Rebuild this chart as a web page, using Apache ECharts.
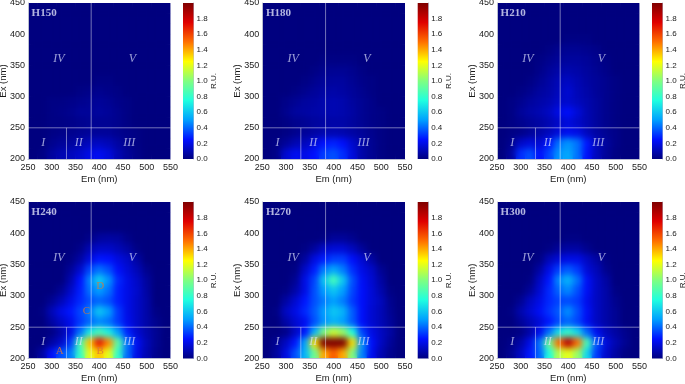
<!DOCTYPE html>
<html><head><meta charset="utf-8">
<script src="https://cdn.jsdelivr.net/npm/echarts@6/dist/echarts.min.js"></script>
<style>
html,body{margin:0;padding:0;background:#fff;width:685px;height:384px;overflow:hidden}
.layer{position:absolute;left:0;top:0;width:685px;height:384px}
#clip{position:absolute;left:0;top:0;width:685px;height:384px;
clip-path:path('M28 3H170.5V159H28ZM262.3 3H405V159H262.3ZM497 3H639.5V159H497ZM28 202H170.5V358.5H28ZM262.3 202H405V358.5H262.3ZM497 202H639.5V358.5H497Z')}
#blur{filter:blur(3px)}
</style></head><body>
<div id="clip"><div id="base" class="layer"></div><div id="blur" class="layer"></div></div>
<div id="top" class="layer"></div>
<script>
// Cell centres
const emCells=[260,280,300,320,340,360,380,400,420,440,460,480,500,520,540];
const exCells=['442','425','408','392','375','358','342','325','308','292','275','258','242','225','208'];
const panelNames=['H150','H180','H210','H240','H270','H300'];
// Values: rows from Ex 442 down to Ex 208, columns Em 260..540
const H150=[
[0,0,0,0,0,0,0,0,0,0,0,0,0,0,0],
[0,0,0,0,0,0,0,0,0,0,0,0,0,0,0],
[0,0,0,0,0,0,0,0,0,0,0,0,0,0,0],
[0,0,0,0,0,0,0,0,0,0,0,0,0,0,0],
[0,0,0,0,0,0,0,0,0,0,0,0,0,0,0],
[0,0,0,0,0,0,0,0,0,0,0,0,0,0,0],
[0,0,0,0,0,0,0,0,0,0,0,0,0,0,0],
[0,0,0,0,0,0,0,.01,.01,0,0,0,0,0,0],
[0,0,0,0,0,.01,.02,.03,.02,.01,0,0,0,0,0],
[0,0,.01,.01,.02,.03,.04,.05,.04,.02,.01,0,0,0,0],
[0,0,.01,.02,.03,.05,.05,.06,.05,.03,.01,0,0,0,0],
[0,0,.01,.01,.02,.03,.04,.04,.04,.03,.01,0,0,0,0],
[0,0,.01,.02,.03,.04,.05,.05,.05,.03,.02,.01,0,0,0],
[0,0,.03,.05,.06,.09,.12,.13,.11,.07,.03,.01,0,0,0],
[0,.01,.06,.1,.12,.15,.2,.22,.18,.1,.05,.02,0,0,0]];
const H180=[
[0,0,0,0,0,0,0,0,0,0,0,0,0,0,0],
[0,0,0,0,0,0,0,0,0,0,0,0,0,0,0],
[0,0,0,0,0,0,0,0,0,0,0,0,0,0,0],
[0,0,0,0,0,0,0,0,0,0,0,0,0,0,0],
[0,0,0,0,0,0,0,0,0,0,0,0,0,0,0],
[0,0,0,0,0,0,.01,.01,.01,.01,0,0,0,0,0],
[0,0,0,0,0,.01,.03,.04,.04,.03,.01,0,0,0,0],
[0,0,0,0,.01,.03,.05,.06,.06,.04,.02,.01,0,0,0],
[0,0,0,.01,.03,.05,.07,.08,.07,.05,.03,.01,0,0,0],
[0,0,.02,.04,.06,.07,.09,.1,.09,.06,.04,.02,0,0,0],
[0,0,.03,.06,.07,.08,.09,.1,.09,.07,.04,.02,.01,0,0],
[0,0,.01,.03,.04,.06,.07,.08,.08,.06,.04,.02,.01,0,0],
[0,0,.01,.03,.05,.07,.09,.1,.09,.07,.05,.03,.01,0,0],
[0,.01,.05,.1,.12,.18,.25,.28,.24,.15,.08,.04,.01,0,0],
[0,.02,.16,.22,.2,.25,.33,.36,.3,.18,.08,.04,.01,0,0]];
const H210=[
[0,0,0,0,0,0,0,0,0,0,0,0,0,0,0],
[0,0,0,0,0,0,0,0,0,0,0,0,0,0,0],
[0,0,0,0,0,0,0,0,0,0,0,0,0,0,0],
[0,0,0,0,0,0,0,.01,.01,.01,0,0,0,0,0],
[0,0,0,0,0,.01,.03,.04,.04,.03,.02,0,0,0,0],
[0,0,0,0,.01,.03,.05,.06,.06,.05,.03,.01,0,0,0],
[0,0,0,0,.02,.05,.08,.09,.08,.06,.04,.02,0,0,0],
[0,0,0,.01,.04,.07,.11,.13,.1,.07,.05,.03,.01,0,0],
[0,0,.01,.03,.06,.08,.12,.16,.11,.08,.05,.03,.01,0,0],
[0,.01,.03,.06,.08,.1,.14,.15,.12,.09,.06,.03,.01,0,0],
[0,.01,.05,.08,.1,.13,.2,.24,.17,.1,.06,.03,.01,0,0],
[0,.01,.03,.05,.07,.1,.14,.18,.14,.1,.06,.03,.01,0,0],
[0,.01,.02,.05,.08,.12,.18,.22,.2,.12,.07,.04,.02,0,0],
[0,.03,.14,.18,.16,.26,.42,.48,.42,.26,.12,.06,.02,0,0],
[0,.06,.3,.36,.24,.34,.48,.52,.42,.24,.12,.05,.01,0,0]];
const H240=[
[0,0,0,0,0,0,0,0,0,0,0,0,0,0,0],
[0,0,0,0,0,0,0,0,0,0,0,0,0,0,0],
[0,0,0,0,0,0,0,0,0,0,0,0,0,0,0],
[0,0,0,0,0,0,.02,.06,.07,.06,.02,0,0,0,0],
[0,0,0,0,0,.02,.1,.14,.14,.11,.07,.01,0,0,0],
[0,0,0,0,.01,.07,.18,.26,.25,.19,.14,.07,0,0,0],
[0,0,0,0,.05,.15,.34,.42,.36,.24,.17,.11,.03,0,0],
[0,0,0,0,.09,.25,.45,.62,.48,.29,.2,.14,.06,0,0],
[0,0,0,.04,.14,.27,.42,.5,.42,.27,.2,.15,.07,0,0],
[0,0,.04,.11,.2,.29,.36,.4,.36,.27,.2,.14,.08,0,0],
[0,.01,.11,.2,.26,.34,.44,.6,.5,.32,.2,.14,.08,.01,0],
[0,0,.07,.14,.21,.32,.4,.46,.42,.32,.21,.14,.08,.03,0],
[0,0,.01,.08,.2,.42,.7,.85,.72,.5,.28,.16,.09,.04,0],
[0,0,.07,.14,.32,.85,1.35,1.7,1.45,.9,.42,.22,.11,.04,0],
[0,.07,.24,.36,.44,.8,1.2,1.35,1.2,.8,.4,.2,.1,.03,0]];
const H270=[
[0,0,0,0,0,0,0,0,0,0,0,0,0,0,0],
[0,0,0,0,0,0,0,0,0,0,0,0,0,0,0],
[0,0,0,0,0,0,0,0,0,0,0,0,0,0,0],
[0,0,0,0,0,0,.01,.05,.05,.03,0,0,0,0,0],
[0,0,0,0,.01,.06,.14,.17,.17,.12,.05,0,0,0,0],
[0,0,0,0,.06,.19,.27,.33,.33,.24,.16,.07,0,0,0],
[0,0,0,.01,.14,.27,.44,.52,.44,.3,.2,.14,.04,0,0],
[0,0,0,.04,.2,.34,.6,.85,.6,.36,.23,.16,.07,0,0],
[0,0,.01,.08,.2,.36,.5,.6,.5,.34,.24,.17,.09,.01,0],
[0,0,.07,.16,.26,.36,.44,.5,.44,.32,.24,.17,.12,.03,0],
[0,.01,.13,.2,.29,.38,.5,.6,.55,.38,.24,.16,.11,.04,0],
[0,0,.08,.16,.22,.36,.48,.55,.5,.38,.24,.16,.11,.05,0],
[0,0,.02,.13,.26,.55,1.0,1.15,1.05,.75,.34,.2,.13,.07,0],
[0,.04,.13,.26,.52,1.3,2.0,2.3,2.05,1.3,.48,.24,.13,.05,0],
[0,.06,.19,.36,.56,.95,1.4,1.55,1.4,1.0,.45,.22,.1,.03,0]];
const H300=[
[0,0,0,0,0,0,0,0,0,0,0,0,0,0,0],
[0,0,0,0,0,0,0,0,0,0,0,0,0,0,0],
[0,0,0,0,0,0,0,0,0,0,0,0,0,0,0],
[0,0,0,0,0,0,0,.01,.01,0,0,0,0,0,0],
[0,0,0,0,0,.01,.05,.07,.07,.03,0,0,0,0,0],
[0,0,0,0,.01,.11,.17,.2,.2,.13,.07,.01,0,0,0],
[0,0,0,0,.07,.2,.33,.38,.32,.17,.11,.03,0,0,0],
[0,0,0,.01,.13,.26,.46,.55,.42,.23,.13,.07,0,0,0],
[0,0,0,.05,.16,.29,.4,.46,.36,.23,.13,.08,.01,0,0],
[0,0,.04,.13,.2,.29,.34,.35,.32,.21,.13,.08,.03,0,0],
[0,.01,.09,.16,.23,.31,.38,.47,.36,.23,.13,.08,.04,0,0],
[0,0,.05,.11,.17,.26,.35,.4,.34,.22,.13,.08,.04,0,0],
[0,0,.01,.08,.22,.42,.68,.8,.65,.4,.22,.12,.07,.03,0],
[0,.02,.08,.2,.42,.95,1.5,1.85,1.5,.85,.37,.18,.1,.04,0],
[0,.04,.13,.26,.4,.75,1.1,1.2,1.05,.65,.32,.15,.07,.01,0]];
const panelValues=[H150,H180,H210,H240,H270,H300];
// Region boundaries and annotations
const emAxisTicks=[250,550];
const exAxisTicks=[200,450];
const zoneEmLong=383, zoneEmShort=331, zoneEx=250;
const regionNames=['I','II','III','IV','V'];
const regionEm=[282,357,463,315,470];
const regionEx=[226,226,226,360,360];
const peakNames=['A','B','C','D'];
const peakEm=[317,402,373,402];
const peakEx=[212,212,275,315];
const jet=['#00007f','#0010ff','#00a0ff','#20ffdf','#80ff80','#ffff00','#ff7000','#e00000','#7f0000'];

const plotLeft=[28,262.3,497], plotWidth=[142.5,142.7,142.5], plotTop=[3,202], plotHeight=[156,156.5];
const barLeft=[183,417.7,652], barWidth=10.5;
function rect(i){const c=i%3,r=Math.floor(i/3);return{outerBoundsMode:'none',left:plotLeft[c],top:plotTop[r],width:plotWidth[c],height:plotHeight[r]};}

function heatOption(){
  const grid=[],xAxis=[],yAxis=[],series=[];
  panelNames.forEach((n,i)=>{
    grid.push(rect(i));
    xAxis.push({type:'category',gridIndex:i,data:emCells.map(String),show:false});
    yAxis.push({type:'category',gridIndex:i,data:exCells.slice().reverse(),show:false});
    const d=[];
    panelValues[i].forEach((row,r)=>row.forEach((v,c)=>d.push([c,exCells.length-1-r,v])));
    series.push({type:'heatmap',name:n,xAxisIndex:i,yAxisIndex:i,data:d,animation:false,progressive:0,emphasis:{disabled:true}});
  });
  return {animation:false,grid,xAxis,yAxis,series,
    visualMap:{show:false,type:'continuous',min:0,max:2,calculable:false,inRange:{color:jet}}};
}
const baseChart=echarts.init(document.getElementById('base'));
baseChart.setOption(heatOption());
const blurChart=echarts.init(document.getElementById('blur'));
blurChart.setOption(heatOption());

const grid=[],xAxis=[],yAxis=[],series=[];
const tickFont={fontFamily:'Liberation Sans',fontSize:9,color:'#1a1a1a'};
const nameFont={fontFamily:'Liberation Sans',fontSize:9.5,color:'#1a1a1a'};
const lineGrey={lineStyle:{color:'#b9bdd0',width:1}};
panelNames.forEach((n,i)=>{
  const rc=rect(i);
  const k=grid.length;
  grid.push(Object.assign({show:false},rc));
  xAxis.push({type:'value',gridIndex:k,min:emAxisTicks[0],max:emAxisTicks[1],interval:50,position:'bottom',
    name:'Em (nm)',nameLocation:'middle',nameGap:15,nameTextStyle:nameFont,
    axisLabel:Object.assign({margin:4,showMinLabel:true,showMaxLabel:true,hideOverlap:false},tickFont),axisLine:Object.assign({show:true},lineGrey),axisTick:{show:false},splitLine:{show:false}});
  yAxis.push({type:'value',gridIndex:k,min:exAxisTicks[0],max:exAxisTicks[1],interval:50,
    name:'Ex (nm)',nameLocation:'middle',nameGap:20,nameMoveOverlap:false,nameTextStyle:nameFont,
    axisLabel:Object.assign({margin:3,showMinLabel:true,showMaxLabel:true,hideOverlap:false},tickFont),axisLine:Object.assign({show:true},lineGrey),axisTick:{show:false},splitLine:{show:false}});
  const ln={type:'line',xAxisIndex:k,yAxisIndex:k,symbol:'none',silent:true,animation:false,lineStyle:{color:'rgba(255,255,255,0.45)',width:1}};
  series.push(Object.assign({},ln,{data:[[zoneEmLong,exAxisTicks[0]],[zoneEmLong,exAxisTicks[1]]]}));
  series.push(Object.assign({},ln,{data:[[zoneEmShort,exAxisTicks[0]],[zoneEmShort,zoneEx]]}));
  series.push(Object.assign({},ln,{data:[[emAxisTicks[0],zoneEx],[emAxisTicks[1],zoneEx]]}));
  series.push({type:'scatter',xAxisIndex:k,yAxisIndex:k,symbolSize:0,silent:true,animation:false,
    data:regionNames.map((t,j)=>({name:t,value:[regionEm[j],regionEx[j]]})),
    label:{show:true,position:'inside',formatter:'{b}',fontFamily:'Liberation Serif',fontStyle:'italic',fontSize:12,color:'rgba(225,230,255,0.85)'}});
  series.push({type:'scatter',xAxisIndex:k,yAxisIndex:k,symbolSize:0,silent:true,animation:false,
    data:[{name:n,value:[284,433]}],
    label:{show:true,position:'inside',formatter:'{b}',fontFamily:'Liberation Serif',fontWeight:'bold',fontSize:11,color:'rgba(235,238,255,0.95)'}});
  if(n==='H240'){
    series.push({type:'scatter',xAxisIndex:k,yAxisIndex:k,symbolSize:0,silent:true,animation:false,
      data:peakNames.map((t,j)=>({name:t,value:[peakEm[j],peakEx[j]]})),
      label:{show:true,position:'inside',formatter:'{b}',fontFamily:'Liberation Serif',fontSize:11,color:'#d8773a'}});
  }
  // colour bar
  const b=grid.length;
  const c=i%3;
  grid.push({outerBoundsMode:'none',show:false,left:barLeft[c],width:barWidth,top:rc.top,height:rc.height});
  xAxis.push({type:'category',gridIndex:b,data:['R.U.'],show:false});
  yAxis.push({type:'value',gridIndex:b,min:0,max:2,interval:0.2,position:'right',
    name:'R.U.',nameLocation:'middle',nameGap:16.5,nameMoveOverlap:false,nameRotate:90,nameTextStyle:{fontFamily:'Liberation Sans',fontSize:8,color:'#1a1a1a'},
    axisLabel:Object.assign({margin:3,showMinLabel:true,hideOverlap:false,formatter:v=>v>=1.99?'':v.toFixed(1)},tickFont,{fontSize:8}),
    axisLine:Object.assign({show:true},lineGrey),axisTick:{show:false},splitLine:{show:false}});
  series.push({type:'bar',xAxisIndex:b,yAxisIndex:b,data:[2],barWidth:'100%',silent:true,animation:false,
    itemStyle:{color:new echarts.graphic.LinearGradient(0,1,0,0,jet.map((col,j)=>({offset:j/(jet.length-1),color:col})))}});
});
const topChart=echarts.init(document.getElementById('top'));
topChart.setOption({animation:false,grid,xAxis,yAxis,series});
</script>
</body></html>
